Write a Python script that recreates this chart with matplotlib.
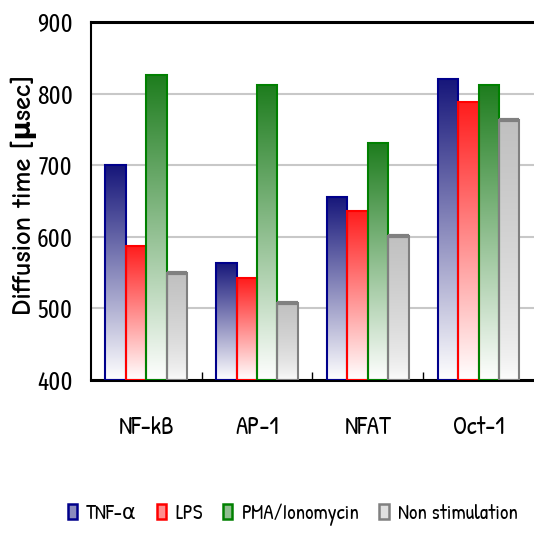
import numpy as np
import matplotlib
matplotlib.use("Agg")
import matplotlib.pyplot as plt
from matplotlib.patches import Rectangle, Patch
from matplotlib.colors import to_rgb

categories = ["NF-kB", "AP-1", "NFAT", "Oct-1"]
series_names = ["TNF-\u03b1", "LPS", "PMA/Ionomycin", "Non stimulation"]
tnf = [700, 564, 656, 821]
lps = [588, 542, 637, 789]
pma = [826, 812, 731, 812]
nonstim = [549, 508, 602, 763]
values = [tnf, lps, pma, nonstim]
y_ticks = [400, 500, 600, 700, 800, 900]

top_colors = ["#16167a", "#ff1c1c", "#1e7d1e", "#c0c0c0"]
edge_colors = ["#00008b", "#ff0000", "#008000", "#808080"]

FONT = ["Patrick Hand", "DejaVu Sans"]
NUMFONT = ["Fira Sans Extra Condensed", "DejaVu Sans"]

fig = plt.figure(figsize=(5.34, 5.38), dpi=100)
ax = fig.add_axes([0.170, 0.2937, 0.83, 0.6645])

bw = 0.184
x = np.arange(len(categories))
for i, (vals, tc, ec) in enumerate(zip(values, top_colors, edge_colors)):
    top = np.array(to_rgb(tc))
    white = np.array([1.0, 1.0, 1.0])
    if i == 3:
        t = np.linspace(0, 1, 256) ** 0.6
    else:
        t = np.linspace(0, 1, 256)
    grad = (white[None, :] * (1 - t[:, None]) + top[None, :] * t[:, None])
    img = grad[:, None, :]
    for xi, v in zip(x, vals):
        x0 = xi + (i - 1.5) * bw - bw / 2
        im = ax.imshow(img, extent=[x0, x0 + bw, 400, v], origin="lower",
                       aspect="auto", zorder=2, interpolation="bilinear")
        rect = Rectangle((x0, 400), bw, v - 400, facecolor="none",
                         edgecolor=ec, linewidth=1.5, zorder=3)
        ax.add_patch(rect)
        im.set_clip_path(rect)
        if i == 3:
            ax.plot([x0, x0 + bw], [v, v], color="#808080", lw=3, zorder=3,
                    solid_capstyle="butt")

ax.set_xlim(-0.5, 3.5)
ax.set_ylim(400, 900)
ax.set_yticks(y_ticks)
ax.set_yticklabels([str(v) for v in y_ticks], family=NUMFONT, fontsize=18)
ax.set_xticks(x)
ax.set_xticklabels(categories, family=FONT, fontsize=18)
ax.set_xticks([0.5, 1.5, 2.5], minor=True)
ax.tick_params(axis="x", which="major", length=0, pad=26)
ax.tick_params(axis="x", which="minor", direction="in", length=6, width=1, color="black")
ax.tick_params(axis="y", length=0, pad=13)
ax.yaxis.grid(True, color="#c8c8c8", linewidth=1.5, zorder=0)
ax.set_axisbelow(True)

for s in ["top", "bottom"]:
    ax.spines[s].set_linewidth(2.2)
ax.spines["left"].set_linewidth(1.5)
ax.spines["right"].set_visible(False)

fig.text(0.045, 0.6375, "Diffusion time [\u03bcsec]", rotation=90, ha="center",
         va="center", fontsize=19, fontweight="bold",
         family=["Comic Neue", "DejaVu Sans"])

handles = [Patch(facecolor=(1, 1, 1), edgecolor=ec, linewidth=1.8) for ec in edge_colors]
for h, tc in zip(handles, top_colors):
    h.set_facecolor(tuple(0.5 * np.array(to_rgb(tc)) + 0.5))
fig.legend(handles, series_names, loc="center", bbox_to_anchor=(0.548, 0.043),
           ncol=4, frameon=False, prop={"family": FONT, "size": 15},
           handlelength=0.45, handleheight=0.75, handletextpad=0.45,
           columnspacing=0.95, borderaxespad=0)

fig.savefig("out.png", dpi=100)
